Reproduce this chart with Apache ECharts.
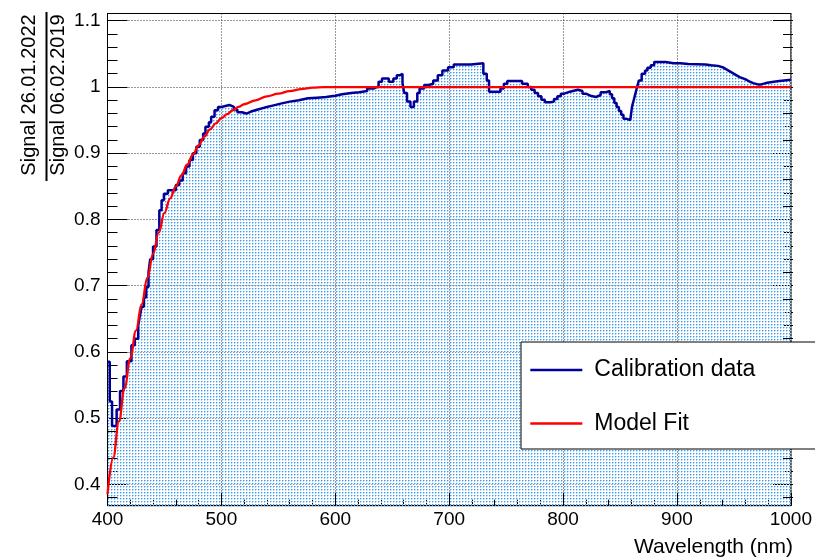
<!DOCTYPE html>
<html><head><meta charset="utf-8">
<script src="https://cdn.jsdelivr.net/npm/echarts@6/dist/echarts.min.js"></script>
<style>html,body{margin:0;padding:0;background:#fff}#c{width:815px;height:558px}</style>
</head><body><div id="c"></div>
<script>
// ---- data ----
const histEdges = [400,402,404,408,411,414,417,421,424,427,428.5,430,432,434,436,437.5,440,443,445.5,447.5,449.5,453,460,463,466,469,472,475,478,481,484,486,489,491,494,497,500,507,511,514,518,522,526,532,538,545,552,560,568,576,584,592,600,606,614,621,628,634,638,641,647,651,654,657,659,660.5,663,666,669,672,674,678,682,686,690,694,699,704,712,719,730,733,735,741,745,748,751,764,769,772,775,778,781,784,789,792,795,798,801,806,813,817,820,824,829,833,837,841,843,845,847,849,851,853,856,859,860.5,862,863.5,865,866.5,869,872,874,877,880,890,897,903,910,925,930,936,940,943,946,949,952,955,958,961,964,967,971,974,978,985,990,1000];
const histValues = [0.585,0.525,0.488,0.513,0.541,0.563,0.586,0.610,0.620,0.640,0.655,0.668,0.682,0.698,0.720,0.740,0.759,0.784,0.814,0.829,0.839,0.844,0.852,0.859,0.870,0.880,0.890,0.900,0.910,0.920,0.930,0.940,0.947,0.955,0.965,0.970,0.973,0.970,0.966,0.962,0.960,0.963,0.966,0.969,0.972,0.975,0.978,0.980,0.983,0.984,0.985,0.987,0.989,0.991,0.992,0.994,0.998,1.001,1.008,1.013,1.008,1.013,1.018,1.020,1.006,0.991,0.978,0.970,0.978,0.991,0.998,1.003,1.005,1.010,1.018,1.025,1.030,1.034,1.034,1.036,1.020,1.010,0.993,0.993,0.998,1.005,1.009,1.005,1.000,0.996,0.991,0.986,0.981,0.977,0.978,0.982,0.986,0.990,0.993,0.996,0.994,0.990,0.987,0.985,0.988,0.992,0.994,0.989,0.983,0.976,0.970,0.964,0.958,0.952,0.950,0.953,0.970,0.980,0.990,1.000,1.010,1.020,1.025,1.029,1.033,1.038,1.036,1.036,1.035,1.034,1.033,1.032,1.030,1.027,1.024,1.021,1.018,1.015,1.013,1.011,1.008,1.006,1.004,1.004,1.006,1.008,1.009,1.011];
const fitX = [400,405,410,415,420,425,430,435,440,445,450,455,460,465,470,475,480,485,490,495,500,505,510,515,520,530,540,550,560,570,580,590,600,700,800,900,1000];
const fitY = [0.385,0.440,0.495,0.545,0.590,0.632,0.672,0.712,0.748,0.780,0.810,0.832,0.850,0.867,0.883,0.898,0.912,0.925,0.936,0.945,0.953,0.959,0.965,0.970,0.974,0.980,0.986,0.990,0.994,0.997,0.999,1.000,1.000,1.000,1.000,1.000,1.000];
const seriesNames = ['Calibration data', 'Model Fit'];
const xTitle = 'Wavelength (nm)';
const yTitleNum = 'Signal 26.01.2022';
const yTitleDen = 'Signal 06.02.2019';
const xRange = [400, 1000];
const yRange = [0.3677, 1.1111];
const yMajor = [0.4, 1.1, 0.1];
const yMinor = [0.38, 1.1, 0.02];

// ---- build ----
const FONT = '"Liberation Sans", Arial, Helvetica, sans-serif';
function dotPattern() {
  const c = document.createElement('canvas');
  c.width = 3; c.height = 3;
  const g = c.getContext('2d');
  g.fillStyle = '#3a9df0';
  g.fillRect(0, 0, 1, 1);
  g.fillStyle = '#a6d3f7';
  g.fillRect(1, 0, 1, 1);
  g.fillRect(0, 1, 1, 1);
  return c;
}
const histData = histValues.map((v, i) => [histEdges[i], v]);
histData.push([histEdges[histEdges.length - 1], histValues[histValues.length - 1]]);
const fitData = fitX.map((x, i) => [x, fitY[i]]);

const L = 107.5, R = 22;
const tickStyle = {color: '#000', width: 1};
const chart = echarts.init(document.getElementById('c'), null, {renderer: 'canvas'});
chart.setOption({
  animation: false,
  backgroundColor: '#fff',
  grid: [
    {left: L, right: R, top: 13.5, bottom: 52.3, show: true, borderColor: '#000', borderWidth: 1, backgroundColor: 'transparent'},
    {left: L, right: R, top: 20.7, bottom: 60.5},
    {left: L, right: R, top: 20.7, bottom: 73.7}
  ],
  xAxis: [
    {gridIndex: 0, type: 'value', min: xRange[0], max: xRange[1], interval: 100,
      axisLine: {show: true, lineStyle: tickStyle},
      axisTick: {show: true, inside: true, length: 13, lineStyle: tickStyle},
      minorTick: {show: true, splitNumber: 5, length: 6, lineStyle: tickStyle},
      axisLabel: {color: '#000', fontSize: 19, fontFamily: FONT, margin: 5, formatter: v => String(v)},
      splitLine: {show: true, lineStyle: {color: '#333', type: [1, 2], width: 1}}},
    {gridIndex: 1, type: 'value', min: xRange[0], max: xRange[1], show: false},
    {gridIndex: 2, type: 'value', min: xRange[0], max: xRange[1], show: false}
  ],
  yAxis: [
    {gridIndex: 0, type: 'value', min: yRange[0], max: yRange[1],
      axisLine: {show: true, lineStyle: tickStyle}, axisTick: {show: false}, axisLabel: {show: false}, splitLine: {show: false}},
    {gridIndex: 1, type: 'value', position: 'left', min: yMinor[0], max: yMinor[1], interval: yMinor[2],
      axisLine: {show: false}, axisTick: {show: true, inside: true, length: 10, lineStyle: tickStyle},
      axisLabel: {show: false}, splitLine: {show: false}},
    {gridIndex: 1, type: 'value', position: 'right', min: yMinor[0], max: yMinor[1], interval: yMinor[2],
      axisLine: {show: false}, axisTick: {show: true, inside: true, length: 10, lineStyle: tickStyle},
      axisLabel: {show: false}, splitLine: {show: false}},
    {gridIndex: 2, type: 'value', position: 'left', min: yMajor[0], max: yMajor[1], interval: yMajor[2],
      axisLine: {show: false}, axisTick: {show: true, inside: true, length: 20, lineStyle: tickStyle},
      axisLabel: {color: '#000', fontSize: 19, fontFamily: FONT, margin: 7},
      splitLine: {show: true, lineStyle: {color: '#333', type: [1, 2], width: 1}}},
    {gridIndex: 2, type: 'value', position: 'right', min: yMajor[0], max: yMajor[1], interval: yMajor[2],
      axisLine: {show: false}, axisTick: {show: true, inside: true, length: 20, lineStyle: tickStyle},
      axisLabel: {show: false}, splitLine: {show: false}}
  ],
  legend: {
    left: 521, top: 342, orient: 'vertical', backgroundColor: '#fff', borderColor: '#000', borderWidth: 1,
    padding: [15, 70, 12.6, 9.3], itemGap: 27.4, itemWidth: 52, itemHeight: 2.5, itemTextGap: 10,
    icon: 'rect', selectedMode: false,
    textStyle: {fontSize: 23, fontFamily: FONT, color: '#000', lineHeight: 26, padding: [0, 0, 0, 7]},
    data: seriesNames
  },
  series: [
    {type: 'line', name: seriesNames[0], xAxisIndex: 0, yAxisIndex: 0, data: histData, step: 'end',
      symbol: 'none', showSymbol: false, color: '#000099',
      lineStyle: {color: '#000099', width: 2.5}, itemStyle: {color: '#000099'},
      areaStyle: {color: {image: dotPattern(), repeat: 'repeat'}, origin: 'start', opacity: 1}},
    {type: 'line', name: seriesNames[1], xAxisIndex: 0, yAxisIndex: 0, data: fitData,
      smooth: 0.4, smoothMonotone: 'x', symbol: 'none', showSymbol: false, color: '#ff0000',
      lineStyle: {color: '#ff0000', width: 2.3}, itemStyle: {color: '#ff0000'}}
  ],
  graphic: [
    {type: 'text', x: 793, y: 547, style: {text: xTitle, font: '21px ' + FONT, fill: '#000', align: 'right', verticalAlign: 'middle'}},
    {type: 'text', x: 29, y: 95, rotation: Math.PI / 2, style: {text: yTitleNum, font: '20px ' + FONT, fill: '#000', align: 'center', verticalAlign: 'middle'}},
    {type: 'text', x: 58, y: 95, rotation: Math.PI / 2, style: {text: yTitleDen, font: '20px ' + FONT, fill: '#000', align: 'center', verticalAlign: 'middle'}},
    {type: 'line', shape: {x1: 46.5, y1: 12, x2: 46.5, y2: 181}, style: {stroke: '#000', lineWidth: 2}}
  ]
});
</script></body></html>
